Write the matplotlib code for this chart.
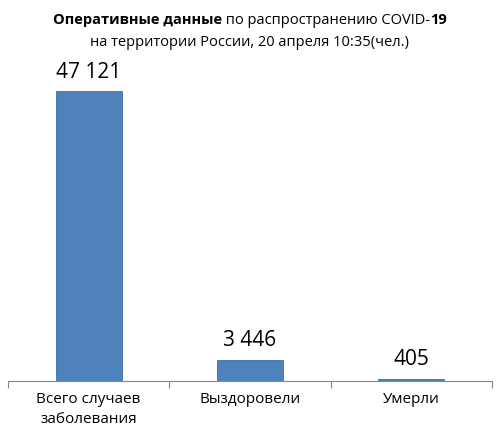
import matplotlib
matplotlib.use("Agg")
import matplotlib.pyplot as plt

categories = ["Всего случаев\nзаболевания", "Выздоровели", "Умерли"]
values = [47121, 3446, 405]
value_labels = ["47 121", "3 446", "405"]

plt.rcParams['font.family'] = ['Open Sans', 'DejaVu Sans']
fig = plt.figure(figsize=(5.0, 4.43), dpi=100)
ax = fig.add_axes([8/500, 1-381/443, 484/500, 321/443])
x = range(len(values))
ax.bar(x, values, width=0.41, color='#4F81BD', edgecolor='#3c6ea8', linewidth=0.6)
ax.set_xlim(-0.5, 2.5)
ax.set_ylim(0, 52150)
for i, (v, l) in enumerate(zip(values, value_labels)):
    ax.annotate(l, (i, v), xytext=(0, 6), textcoords='offset points', ha='center', va='bottom', fontsize=15)
ax.set_yticks([])
ax.set_xticks([-0.5, 0.5, 1.5, 2.5])
ax.set_xticklabels([])
ax.tick_params(axis='x', length=5, color='#888888')
for i, c in enumerate(categories):
    ax.text(i, -0.035, c, transform=ax.get_xaxis_transform(), ha='center', va='top', fontsize=11, linespacing=1.4)
for s in ['top', 'right', 'left']:
    ax.spines[s].set_visible(False)
ax.spines['bottom'].set_color('#888888')

# title
r = fig.canvas.get_renderer()
parts = [("Оперативные данные", 'bold'), (" по распространению COVID-", 'normal'), ("19", 'bold')]
texts = [fig.text(0, 1-20/443, p, fontsize=10.5, fontweight=w, va='center') for p, w in parts]
widths = [t.get_window_extent(r).width / fig.bbox.width for t in texts]
x0 = 0.5 - sum(widths) / 2
for t, w in zip(texts, widths):
    t.set_x(x0)
    x0 += w
fig.text(0.5, 1-43/443, "на территории России, 20 апреля 10:35(чел.)", fontsize=10.5, ha='center', va='center')
fig.savefig("out.png", dpi=100)
